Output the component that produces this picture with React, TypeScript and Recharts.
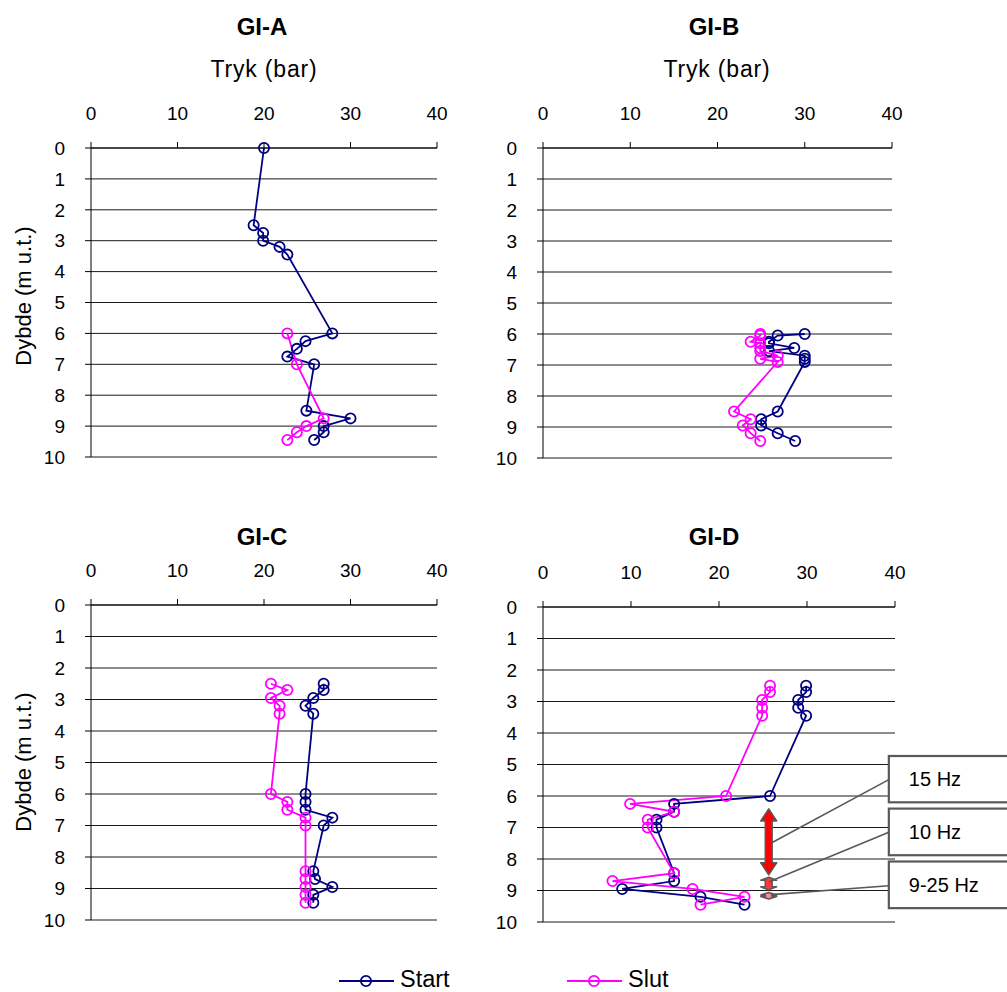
import React from 'react';
import { LineChart, Line, XAxis, YAxis, CartesianGrid, ReferenceArea, ReferenceLine } from 'recharts';

const FONT = '"Liberation Sans", Arial, Helvetica, sans-serif';
const NAVY = '#000080';
const MAGENTA = '#FF00FF';
const GREY = '#595959';

const pressureTicks = [0, 10, 20, 30, 40];
const depthTicks = [0, 1, 2, 3, 4, 5, 6, 7, 8, 9, 10];

const panelTitles = ['GI-A', 'GI-B', 'GI-C', 'GI-D'];
const seriesNames = ['Start', 'Slut'];
const xAxisTitle = 'Tryk (bar)';
const yAxisTitle = 'Dybde (m u.t.)';

// GI-A
const depthsA = [0, 2.5, 2.75, 3.0, 3.2, 3.45, 6.0, 6.25, 6.5, 6.75, 7.0, 8.5, 8.75, 9.0, 9.2, 9.45];
const startA = [20, 18.8, 19.9, 19.9, 21.8, 22.7, 27.9, 24.8, 23.8, 22.7, 25.8, 24.9, 30.0, 26.9, 26.9, 25.8];
const slutA = [null, null, null, null, null, null, 22.7, null, null, null, 23.8, null, 26.9, 24.9, 23.8, 22.7];

// GI-B
const depthsB = [6.0, 6.05, 6.25, 6.3, 6.45, 6.55, 6.7, 6.8, 6.9, 8.5, 8.75, 8.95, 9.2, 9.45];
const startB = [30.0, 26.9, 25.9, 25.9, 28.8, 25.9, 30.0, 30.0, 30.0, 26.9, 25.0, 25.0, 26.9, 28.9];
const slutB = [24.9, 24.9, 23.8, 24.9, 24.9, 24.9, 26.9, 24.9, 26.9, 21.9, 23.8, 22.9, 23.8, 24.9];

// GI-C
const depthsC = [2.5, 2.7, 2.95, 3.2, 3.45, 6.0, 6.25, 6.5, 6.75, 7.0, 8.45, 8.7, 8.95, 9.2, 9.45];
const startC = [26.9, 26.9, 25.7, 24.8, 25.7, 24.8, 24.8, 24.8, 27.9, 26.9, 25.7, 25.9, 27.9, 25.7, 25.7];
const slutC = [20.8, 22.7, 20.8, 21.8, 21.8, 20.8, 22.7, 22.7, 24.8, 24.8, 24.8, 24.8, 24.8, 24.8, 24.8];

// GI-D
const depthsD = [2.5, 2.7, 2.95, 3.2, 3.45, 6.0, 6.25, 6.5, 6.75, 7.0, 8.45, 8.7, 8.95, 9.2, 9.45];
const startD = [29.9, 29.9, 29.0, 29.0, 29.9, 25.8, 14.9, 14.9, 12.9, 12.9, 14.9, 14.9, 9.0, 17.9, 22.9];
const slutD = [25.8, 25.8, 24.9, 24.9, 24.9, 20.8, 9.9, 14.9, 11.9, 11.9, 14.9, 7.9, 17.0, 22.9, 17.9];

// GI-D annotations (data coordinates)
const arrowLabels = ['15 Hz', '10 Hz', '9-25 Hz'];
const arrowSpans = [
  { x1: 24.75, x2: 26.55, y1: 6.41, y2: 8.5, head: 12, fill: '#FF0000' },
  { x1: 24.75, x2: 26.55, y1: 8.58, y2: 8.98, head: 3, fill: '#FF3838' },
  { x1: 24.75, x2: 26.55, y1: 9.06, y2: 9.27, head: 2.5, fill: '#FF8C8C' },
];
const calloutBoxes = [
  { x1: 39.3, x2: 54, y1: 4.73, y2: 6.2 },
  { x1: 39.3, x2: 54, y1: 6.4, y2: 7.88 },
  { x1: 39.3, x2: 54, y1: 8.08, y2: 9.56 },
];
const leaderLines = [
  [{ x: 26.1, y: 7.47 }, { x: 39.3, y: 5.48 }],
  [{ x: 25.7, y: 8.72 }, { x: 39.3, y: 7.15 }],
  [{ x: 25.9, y: 9.13 }, { x: 39.3, y: 8.85 }],
];

type Row = { depth: number; start: number | null; slut: number | null };
const buildRows = (depths: number[], start: (number | null)[], slut: (number | null)[]): Row[] =>
  depths.map((d, i) => ({ depth: d, start: start[i], slut: slut[i] }));

const dataA = buildRows(depthsA, startA, slutA);
const dataB = buildRows(depthsB, startB, slutB);
const dataC = buildRows(depthsC, startC, slutC);
const dataD = buildRows(depthsD, startD, slutD);

const tickStyle = { fontSize: 19, fill: '#000', fontFamily: FONT };
const DOT_R = 5.1;
const LINE_W = 1.8;

const DoubleArrow = (head: number, fill: string) => (props: any) => {
  const { x, y, width, height } = props;
  if (x == null || y == null) return null;
  const cx = x + width / 2;
  const sw = 3.4;
  const pts = [
    [cx, y],
    [x + width, y + head],
    [cx + sw, y + head],
    [cx + sw, y + height - head],
    [x + width, y + height - head],
    [cx, y + height],
    [x, y + height - head],
    [cx - sw, y + height - head],
    [cx - sw, y + head],
    [x, y + head],
  ]
    .map((p) => p.join(','))
    .join(' ');
  return <polygon points={pts} fill={fill} stroke={GREY} strokeWidth={1.6} strokeLinejoin="round" />;
};

const CalloutBox = (label: string) => (props: any) => {
  const { x, y, width, height } = props;
  if (x == null || y == null) return null;
  return (
    <g>
      <rect x={x} y={y} width={width} height={height} fill="#fff" stroke={GREY} strokeWidth={2.2} />
      <text x={x + 20} y={y + height / 2 + 7} fontSize={20} fontFamily={FONT} fill="#000">
        {label}
      </text>
    </g>
  );
};

type PanelProps = {
  left: number;
  top: number;
  width: number;
  height: number;
  xAxisHeight: number;
  margin: { top: number; right: number; bottom: number; left: number };
  data: Row[];
  children?: React.ReactNode;
};

function Panel({ left, top, width, height, xAxisHeight, margin, data, children }: PanelProps) {
  return (
    <div style={{ position: 'absolute', left, top, width, height }}>
      <LineChart layout="vertical" width={width} height={height} data={data} margin={margin}>
        <CartesianGrid horizontal vertical={false} stroke="#1a1a1a" strokeWidth={1} />
        <XAxis
          type="number"
          orientation="top"
          domain={[0, 40]}
          ticks={pressureTicks}
          interval={0}
          height={xAxisHeight}
          tickSize={6}
          tickMargin={22}
          tick={tickStyle}
          axisLine={{ stroke: '#000' }}
          tickLine={{ stroke: '#000' }}
        />
        <YAxis
          type="number"
          dataKey="depth"
          domain={[0, 10]}
          ticks={depthTicks}
          interval={0}
          width={91}
          tickSize={6}
          tickMargin={20}
          tick={tickStyle}
          axisLine={{ stroke: '#000' }}
          tickLine={{ stroke: '#000' }}
        />
        <Line
          dataKey="start"
          name={seriesNames[0]}
          stroke={NAVY}
          strokeWidth={LINE_W}
          dot={{ r: DOT_R, stroke: NAVY, strokeWidth: LINE_W, fill: 'none', clipDot: false }}
          activeDot={false}
          connectNulls={false}
          isAnimationActive={false}
        />
        <Line
          dataKey="slut"
          name={seriesNames[1]}
          stroke={MAGENTA}
          strokeWidth={LINE_W}
          dot={{ r: DOT_R, stroke: MAGENTA, strokeWidth: LINE_W, fill: 'none', clipDot: false }}
          activeDot={false}
          connectNulls={false}
          isAnimationActive={false}
        />
        {children}
      </LineChart>
    </div>
  );
}

export default function App() {
  return (
    <div style={{ position: 'absolute', left: 0, top: 0, width: 1007, height: 992, background: '#fff', overflow: 'hidden' }}>
      <Panel left={0} top={80} width={460} height={390} xAxisHeight={68} margin={{ top: 0, right: 23, bottom: 13, left: 0 }} data={dataA} />
      <Panel left={452} top={80} width={460} height={390} xAxisHeight={68} margin={{ top: 0, right: 20, bottom: 12, left: 0 }} data={dataB} />
      <Panel left={0} top={540} width={460} height={400} xAxisHeight={65} margin={{ top: 0, right: 23, bottom: 20, left: 0 }} data={dataC} />
      <Panel left={452} top={540} width={555} height={400} xAxisHeight={67} margin={{ top: 0, right: 112, bottom: 18, left: 0 }} data={dataD}>
        {leaderLines.map((seg, i) => (
          <ReferenceLine key={`ll${i}`} segment={seg} stroke={GREY} strokeWidth={1.6} ifOverflow="visible" />
        ))}
        {calloutBoxes.map((b, i) => (
          <ReferenceArea key={`cb${i}`} x1={b.x1} x2={b.x2} y1={b.y1} y2={b.y2} ifOverflow="visible" shape={CalloutBox(arrowLabels[i])} />
        ))}
        {arrowSpans.map((a, i) => (
          <ReferenceArea key={`ar${i}`} x1={a.x1} x2={a.x2} y1={a.y1} y2={a.y2} ifOverflow="visible" shape={DoubleArrow(a.head, a.fill)} />
        ))}
      </Panel>
      <svg width={1007} height={992} style={{ position: 'absolute', left: 0, top: 0, pointerEvents: 'none' }}>
        <g fontFamily={FONT} fill="#000">
          <text x={262} y={35} textAnchor="middle" fontSize={24} fontWeight="bold">{panelTitles[0]}</text>
          <text x={714} y={35} textAnchor="middle" fontSize={24} fontWeight="bold">{panelTitles[1]}</text>
          <text x={262} y={545} textAnchor="middle" fontSize={24} fontWeight="bold">{panelTitles[2]}</text>
          <text x={714} y={545} textAnchor="middle" fontSize={24} fontWeight="bold">{panelTitles[3]}</text>
          <text x={264} y={77} textAnchor="middle" fontSize={23} letterSpacing={0.8}>{xAxisTitle}</text>
          <text x={717} y={77} textAnchor="middle" fontSize={23} letterSpacing={0.8}>{xAxisTitle}</text>
          <text x={31} y={296} textAnchor="middle" fontSize={22} transform="rotate(-90 31 296)">{yAxisTitle}</text>
          <text x={31} y={762} textAnchor="middle" fontSize={22} transform="rotate(-90 31 762)">{yAxisTitle}</text>
          <line x1={339} x2={394} y1={981} y2={981} stroke={NAVY} strokeWidth={LINE_W} />
          <circle cx={366} cy={981} r={DOT_R} stroke={NAVY} strokeWidth={LINE_W} fill="none" />
          <text x={400} y={987} fontSize={23.5}>{seriesNames[0]}</text>
          <line x1={567} x2={622} y1={981} y2={981} stroke={MAGENTA} strokeWidth={LINE_W} />
          <circle cx={594} cy={981} r={DOT_R} stroke={MAGENTA} strokeWidth={LINE_W} fill="none" />
          <text x={628} y={987} fontSize={23.5}>{seriesNames[1]}</text>
        </g>
      </svg>
    </div>
  );
}
